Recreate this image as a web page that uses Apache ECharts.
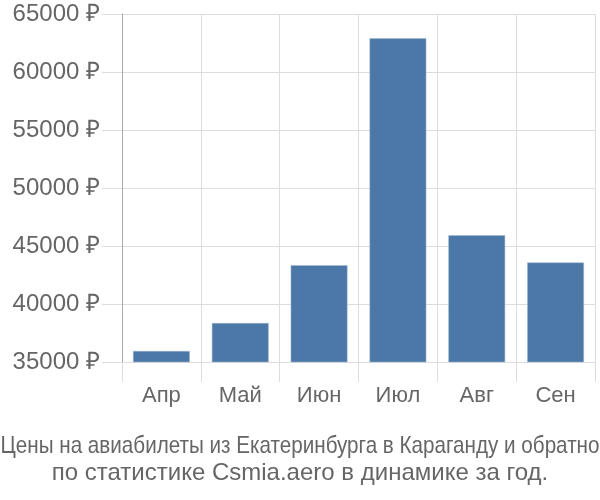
<!DOCTYPE html>
<html>
<head>
<meta charset="utf-8">
<script src="https://cdn.jsdelivr.net/npm/echarts@6/dist/echarts.min.js"></script>
<style>html,body{margin:0;padding:0;background:#fff}#c{width:600px;height:500px}</style>
</head>
<body>
<div id="c"></div>
<script>
const categories = ['Апр', 'Май', 'Июн', 'Июл', 'Авг', 'Сен'];
const prices = [35950, 38360, 43340, 62900, 45930, 43580];
const yTicks = [35000, 40000, 45000, 50000, 55000, 60000, 65000];
const titleLines = ['Цены на авиабилеты из Екатеринбурга в Караганду и обратно', 'по статистике Csmia.aero в динамике за год.'];

const FONT = '"Liberation Sans", Arial, sans-serif';
const chart = echarts.init(document.getElementById('c'), null, {renderer: 'canvas'});
chart.setOption({
  animation: false,
  backgroundColor: '#fff',
  graphic: [
    {type: 'text', x: 300, y: 446, scaleX: 0.86, style: {text: titleLines[0], fontSize: 24, fontFamily: FONT, fill: '#666', textAlign: 'center', textVerticalAlign: 'middle'}},
    {type: 'text', x: 300, y: 473, style: {text: titleLines[1], fontSize: 24, fontFamily: FONT, fill: '#666', textAlign: 'center', textVerticalAlign: 'middle'}}
  ],
  grid: {left: 122, right: 5, top: 14, bottom: 138, containLabel: false},
  xAxis: {
    type: 'category',
    data: categories,
    boundaryGap: true,
    axisLine: {show: false},
    axisTick: {show: true, length: 20, lineStyle: {color: '#ddd'}},
    splitLine: {show: true, lineStyle: {color: '#ddd'}},
    axisLabel: {margin: 23, fontSize: 22, color: '#666', fontFamily: FONT}
  },
  yAxis: {
    type: 'value',
    min: yTicks[0],
    max: yTicks[yTicks.length - 1],
    interval: 5000,
    axisLine: {show: true, lineStyle: {color: '#aaa'}},
    axisTick: {show: true, length: 20, lineStyle: {color: '#ddd'}},
    splitLine: {show: true, lineStyle: {color: '#ddd'}},
    axisLabel: {
      margin: 22,
      fontSize: 24,
      color: '#666',
      fontFamily: FONT,
      formatter: v => v + ' ₽'
    }
  },
  series: [{
    type: 'bar',
    data: prices,
    barCategoryGap: '28%',
    itemStyle: {color: '#4c78a8', borderColor: '#9fb6d3', borderWidth: 0.5}
  }]
});
</script>
</body>
</html>
